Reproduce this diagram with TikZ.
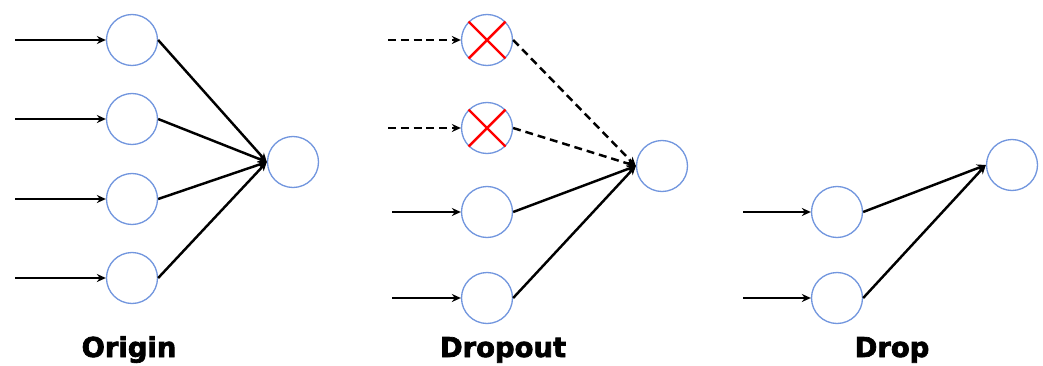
\documentclass[tikz,border=0pt]{standalone}
\usepackage{fontspec}
\newfontface\capfont[FakeBold=2.5]{DejaVu Sans Bold}
\usetikzlibrary{arrows.meta}
\definecolor{ringblue}{RGB}{114,150,222}

\begin{document}
\begin{tikzpicture}[x=.02cm,y=-.02cm,>={Stealth[length=1.8mm,width=1.6mm]},
  neuron/.style={circle,draw=ringblue,line width=.75pt,minimum size=1.02cm,inner sep=0pt},
  wire/.style={line width=1.4pt,->},
  gone/.style={wire,dash pattern=on 4.5pt off 2.8pt},
  cross/.style={red,line width=1.4pt},
  caption/.style={font=\capfont\fontsize{15.6}{18}\selectfont,anchor=base}]
  \useasboundingbox (0,0) rectangle (1043,365);

  % Origin
  \foreach \i/\y in {1/40,2/119,3/199,4/278}{
    \node[neuron] (a\i) at (132,\y) {};
    \coordinate (ain\i) at (15,\y);
    \draw[wire] (ain\i) -- (a\i);
  }
  \node[neuron] (aout) at (293,162) {};
  \foreach \i in {1,...,4} \draw[wire] (a\i.east) -- (aout.west);
  \node[caption] (acap) at (129,357) {Origin};

  % Dropout
  \foreach \i/\y in {1/40,2/128,3/212,4/298}
    \node[neuron] (b\i) at (487,\y) {};
  \node[neuron] (bout) at (662,166) {};
  \foreach \i in {1,2}{
    \coordinate (bin\i) at (388,0 |- b\i);
    \draw[gone] (bin\i) -- (b\i);
    \draw[gone] (b\i.east) -- (bout.west);
    \draw[cross] (b\i.north west) -- (b\i.south east)
                 (b\i.south west) -- (b\i.north east);
  }
  \foreach \i in {3,4}{
    \coordinate (bin\i) at (392,0 |- b\i);
    \draw[wire] (bin\i) -- (b\i);
    \draw[wire] (b\i.east) -- (bout.west);
  }
  \node[caption] (bcap) at (503,357) {Dropout};

  % Drop
  \foreach \i/\y in {1/212,2/298}{
    \node[neuron] (c\i) at (837,\y) {};
    \coordinate (cin\i) at (743,\y);
    \draw[wire] (cin\i) -- (c\i);
  }
  \node[neuron] (cout) at (1012,165) {};
  \foreach \i in {1,2} \draw[wire] (c\i.east) -- (cout.west);
  \node[caption] (ccap) at (892,357) {Drop};
\end{tikzpicture}
\end{document}
